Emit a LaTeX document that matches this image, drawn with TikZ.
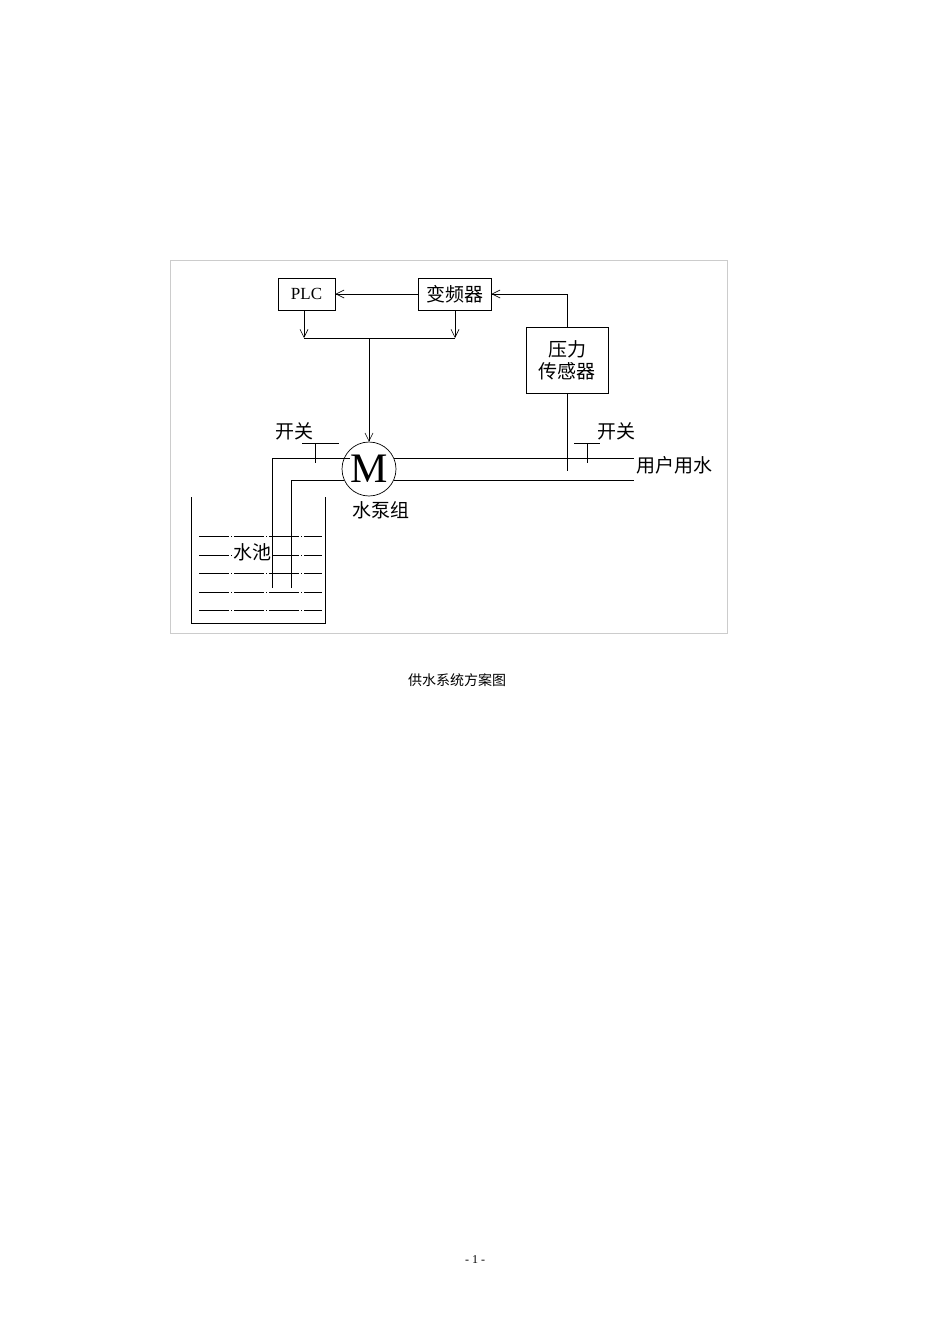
\documentclass[tikz,border=0pt]{standalone}
\usepackage{fontspec}
\setmainfont{Liberation Serif}
\newfontfamily\cjk{Noto Sans CJK SC}
\usetikzlibrary{arrows.meta}
\begin{document}
\begin{tikzpicture}[x=1pt,y=-1pt,
  box/.style={draw,line width=0.9pt,inner sep=0pt},
  lbl/.style={font=\cjk\fontsize{19}{22}\selectfont,inner sep=0pt},
  ar/.style={-{Straight Barb[length=8pt,width=8pt]},line width=0.6pt},
  ln/.style={line width=0.7pt},
  wl/.style={line width=0.6pt,dash pattern=on 30pt off 2pt on 1pt off 2pt}]
\useasboundingbox (0,0) rectangle (950,1344);
\draw[gray!40,line width=0.8pt] (170,260) rectangle (727,633);
\node[box,minimum width=57pt,minimum height=32pt,font=\fontsize{17}{19}\selectfont] (plc) at (306.5,294) {PLC};
\node[box,minimum width=73pt,minimum height=32pt,lbl] (vfd) at (454.5,294) {变频器};
\node[box,minimum width=82pt,minimum height=66pt,lbl,align=center] (ps) at (567,360) {压力\\传感器};
\node[draw,circle,minimum size=54pt,inner sep=0pt,font=\fontsize{42}{44}\selectfont,line width=0.7pt] (m) at (369,469) {M};
\coordinate (j1) at (304,338);
\coordinate (j2) at (455,338);
\coordinate (jm) at (369,338);
\draw[ar] (vfd.west) -- (plc.east);
\draw[ar] (ps.north) |- (vfd.east);
\draw[ar] (plc.south -| j1) -- (j1);
\draw[ar] (vfd.south -| j2) -- (j2);
\draw[ln] (j1) -- (j2);
\draw[ar] (jm) -- (m.north);
% pipes
\coordinate (pu) at (272,588);
\coordinate (pl) at (291,588);
\draw[ln] (pu) |- (m.north west |- 0,458);
\draw[ln] (pl) |- (344,480);
\draw[ln] (394,458) -- (634,458);
\draw[ln] (394,480) -- (634,480);
\draw[ln] (ps.south) -- (567,471);
% switches
\draw[ln] (302,443) -- (339,443) (315,443) -- (315,463);
\draw[ln] (574,443) -- (600,443) (587,443) -- (587,463);
\node[lbl] (s1) at (294,431) {开关};
\node[lbl] (s2) at (616,431) {开关};
\node[lbl,anchor=west] (user) at (636,465) {用户用水};
\node[lbl] (pump) at (381,510) {水泵组};
% tank
\draw[line width=0.9pt] (191,497) -- (191,623) -- (325,623) -- (325,497);
\foreach \y in {536,555,573,592,610} \draw[wl] (199,\y) -- (322,\y);
\node[lbl,fill=white,inner sep=1pt] (pool) at (252,552) {水池};
\node[font=\cjk\fontsize{14}{16}\selectfont] (cap) at (457,680) {供水系统方案图};
\node[font=\fontsize{12}{14}\selectfont] (pg) at (475,1260) {- 1 -};
\end{tikzpicture}
\end{document}
